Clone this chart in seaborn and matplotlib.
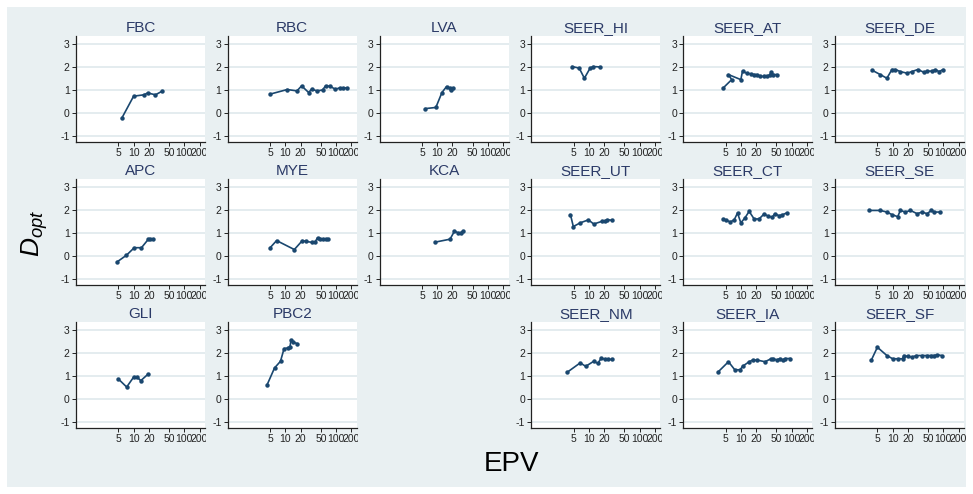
import numpy as np
import pandas as pd
import matplotlib
matplotlib.use("Agg")
import matplotlib.pyplot as plt
import seaborn as sns
from matplotlib.patches import Rectangle
from matplotlib.ticker import NullLocator
from matplotlib.transforms import Bbox, TransformedBbox

# ---- data: events-per-variable (EPV) and optimal D for each dataset ----
fbc_epv = [5.8, 10, 16, 19, 27, 36]
fbc_dopt = [-0.23, 0.74, 0.80, 0.88, 0.80, 0.95]

rbc_epv = [5, 10.9, 16.9, 20.9, 28.7, 32.8, 42.5, 54, 62, 77, 96, 117, 137, 163]
rbc_dopt = [0.83, 1.03, 0.97, 1.19, 0.90, 1.04, 0.97, 1.01, 1.19, 1.17, 1.04, 1.10, 1.10, 1.10]

lva_epv = [5.8, 9.4, 12.4, 15.3, 17.5, 19.0, 20.7]
lva_dopt = [0.20, 0.25, 0.90, 1.16, 1.08, 1.02, 1.10]

seer_hi_epv = [4.6, 6.4, 8.1, 10.5, 12.2, 16.6]
seer_hi_dopt = [2.03, 1.96, 1.52, 1.96, 2.03, 2.01]

seer_at_epv = [4.5, 6.6, 5.7, 10, 10.8, 13, 15.7, 18.2, 21, 24, 28.6, 33, 37.6, 40, 43.7, 52]
seer_at_dopt = [1.10, 1.46, 1.68, 1.46, 1.83, 1.74, 1.71, 1.68, 1.68, 1.60, 1.60, 1.60, 1.68, 1.78, 1.68, 1.68]

seer_de_epv = [4.0, 5.7, 7.7, 9.7, 11.3, 14.2, 19.3, 24, 31.4, 41.3, 48, 60, 70, 82, 100]
seer_de_dopt = [1.86, 1.68, 1.52, 1.90, 1.90, 1.81, 1.74, 1.81, 1.90, 1.78, 1.83, 1.83, 1.90, 1.81, 1.90]

apc_epv = [4.7, 7.2, 10.3, 14.3, 19.4, 21.2, 23.9]
apc_dopt = [-0.25, 0.04, 0.37, 0.37, 0.73, 0.73, 0.73]

mye_epv = [5, 6.7, 15, 21.6, 25, 33.6, 38, 43, 48, 55, 62, 68]
mye_dopt = [0.37, 0.68, 0.29, 0.68, 0.65, 0.60, 0.60, 0.80, 0.74, 0.73, 0.73, 0.73]

kca_epv = [9.0, 17.9, 21.9, 26.3, 29.3, 32]
kca_dopt = [0.61, 0.74, 1.09, 1.01, 1.03, 1.09]

seer_ut_epv = [4.3, 4.9, 6.7, 9.7, 12.4, 18.2, 20.6, 22.9, 28.8]
seer_ut_dopt = [1.81, 1.29, 1.45, 1.58, 1.40, 1.52, 1.52, 1.59, 1.56]

seer_ct_epv = [4.5, 5.2, 6.2, 7.4, 8.6, 10, 12, 14.6, 18.3, 22.9, 28.6, 34.3, 41.6, 46.9, 56.6, 65.7, 80]
seer_ct_dopt = [1.63, 1.56, 1.49, 1.58, 1.88, 1.45, 1.66, 1.95, 1.62, 1.62, 1.83, 1.75, 1.69, 1.85, 1.76, 1.80, 1.88]

seer_se_epv = [3.4, 5.7, 7.7, 9.7, 12.6, 14.2, 17.8, 22.5, 30.4, 38, 48, 57.7, 67, 85]
seer_se_dopt = [1.99, 1.99, 1.92, 1.81, 1.72, 1.99, 1.92, 1.99, 1.85, 1.92, 1.85, 1.99, 1.92, 1.92]

gli_epv = [5, 7.3, 10, 11.6, 13.9, 19.5]
gli_dopt = [0.88, 0.53, 0.96, 0.96, 0.81, 1.10]

pbc2_epv = [4.3, 6.1, 8.0, 9.4, 11.3, 12.3, 12.9, 14.4, 17.2]
pbc2_dopt = [0.60, 1.36, 1.65, 2.20, 2.23, 2.27, 2.57, 2.47, 2.42]

seer_nm_epv = [3.7, 6.7, 8.6, 12.4, 14.9, 17.6, 20.6, 24, 28]
seer_nm_dopt = [1.17, 1.58, 1.43, 1.65, 1.56, 1.80, 1.73, 1.73, 1.73]

seer_ia_epv = [3.5, 5.7, 7.6, 9.7, 10.8, 14.6, 17, 21.2, 30, 38.7, 43.7, 50.8, 59, 67.6, 76, 95]
seer_ia_dopt = [1.17, 1.63, 1.28, 1.28, 1.43, 1.63, 1.70, 1.70, 1.63, 1.75, 1.77, 1.70, 1.77, 1.70, 1.77, 1.77]

seer_sf_epv = [3.8, 5.0, 7.7, 10, 12.6, 15.8, 16.5, 19.8, 24, 29.5, 38, 48, 57.7, 65, 76, 93]
seer_sf_dopt = [1.70, 2.26, 1.90, 1.76, 1.76, 1.76, 1.90, 1.86, 1.83, 1.90, 1.90, 1.90, 1.90, 1.90, 1.93, 1.90]

series = {
    "FBC": (fbc_epv, fbc_dopt), "RBC": (rbc_epv, rbc_dopt), "LVA": (lva_epv, lva_dopt),
    "SEER_HI": (seer_hi_epv, seer_hi_dopt), "SEER_AT": (seer_at_epv, seer_at_dopt),
    "SEER_DE": (seer_de_epv, seer_de_dopt), "APC": (apc_epv, apc_dopt), "MYE": (mye_epv, mye_dopt),
    "KCA": (kca_epv, kca_dopt), "SEER_UT": (seer_ut_epv, seer_ut_dopt),
    "SEER_CT": (seer_ct_epv, seer_ct_dopt), "SEER_SE": (seer_se_epv, seer_se_dopt),
    "GLI": (gli_epv, gli_dopt), "PBC2": (pbc2_epv, pbc2_dopt), "SEER_NM": (seer_nm_epv, seer_nm_dopt),
    "SEER_IA": (seer_ia_epv, seer_ia_dopt), "SEER_SF": (seer_sf_epv, seer_sf_dopt),
}

panel_grid = [
    ["FBC", "RBC", "LVA", "SEER_HI", "SEER_AT", "SEER_DE"],
    ["APC", "MYE", "KCA", "SEER_UT", "SEER_CT", "SEER_SE"],
    ["GLI", "PBC2", None, "SEER_NM", "SEER_IA", "SEER_SF"],
]

x_ticks = [5, 10, 20, 50, 100, 200]
y_ticks = [-1, 0, 1, 2, 3]

frames = []
for name, (epv, dopt) in series.items():
    frames.append(pd.DataFrame({"dataset": name, "EPV": epv, "Dopt": dopt,
                                "step": np.arange(len(epv))}))
df = pd.concat(frames, ignore_index=True)

# ---- styling ----
sns.set_theme(style="white")
plt.rcParams["font.family"] = ["Liberation Sans", "DejaVu Sans"]
plt.rcParams["mathtext.fontset"] = "custom"
plt.rcParams["mathtext.it"] = "Liberation Sans:italic"
plt.rcParams["mathtext.rm"] = "Liberation Sans"

W, H = 973, 494
region_color = "#e9f0f2"
line_color = "#1a476f"
title_color = "#2b3a67"

fig, axes = plt.subplots(3, 6, figsize=(W / 100, H / 100), dpi=100)
fig.patch.set_facecolor("white")
fig.subplots_adjust(left=76 / W, right=964 / W, top=1 - 35.7 / H, bottom=1 - 428.2 / H,
                    wspace=0.177, hspace=0.343)
fig.patches.append(Rectangle((7 / W, 7 / H), (W - 14) / W, (H - 14) / H,
                             transform=fig.transFigure, facecolor=region_color,
                             edgecolor="none", zorder=-10))

for r, row in enumerate(panel_grid):
    for c, name in enumerate(row):
        ax = axes[r, c]
        if name is None:
            ax.set_visible(False)
            continue
        sub = df[df["dataset"] == name]
        sns.lineplot(data=sub, x="EPV", y="Dopt", sort=False, estimator=None,
                     color=line_color, linewidth=1.2, marker="o", markersize=3.2,
                     markeredgewidth=0, ax=ax)
        ax.set_facecolor("white")
        ax.set_xscale("log")
        ax.set_xlim(0.73, 256)
        ax.set_ylim(-1.26, 3.37)
        ax.set_xticks(x_ticks)
        ax.set_xticklabels([str(t) for t in x_ticks])
        ax.xaxis.set_minor_locator(NullLocator())
        ax.set_yticks(y_ticks)
        ax.set_yticklabels([str(t) for t in y_ticks])
        ax.grid(axis="y", color="#e4ecef", linewidth=1.4)
        ax.set_axisbelow(True)
        for side in ("top", "right"):
            ax.spines[side].set_visible(False)
        for side in ("left", "bottom"):
            ax.spines[side].set_color("#222222")
            ax.spines[side].set_linewidth(0.9)
        ax.tick_params(axis="both", which="major", direction="out", length=3, width=0.7,
                       color="#222222", labelsize=7.5, labelcolor="#222222", pad=1.5,
                       left=True, bottom=True)
        ax.set_xlabel("")
        ax.set_ylabel("")
        ax.set_title(name, fontsize=11, color=title_color, pad=3)

# x labels of inner columns are cut at the panel edge
for r, row in enumerate(panel_grid):
    for c, name in enumerate(row):
        if name is None or c == 5:
            continue
        ax = axes[r, c]
        pos = ax.get_position()
        clip = TransformedBbox(Bbox.from_extents(pos.x0 - 0.05, 0, pos.x1 + 1.5 / W, 1),
                               fig.transFigure)
        for lab in ax.get_xticklabels():
            lab.set_clip_box(clip)
            lab.set_clip_on(True)

fig.text(35 / W, 1 - 233 / H, r"$D_{opt}$", rotation=90, fontsize=19,
         ha="center", va="center", color="black")
fig.text(511.7 / W, 1 - 464 / H, "EPV", fontsize=20, ha="center", va="center",
         color="black")

fig.savefig("out.png", dpi=100, facecolor=fig.get_facecolor())
